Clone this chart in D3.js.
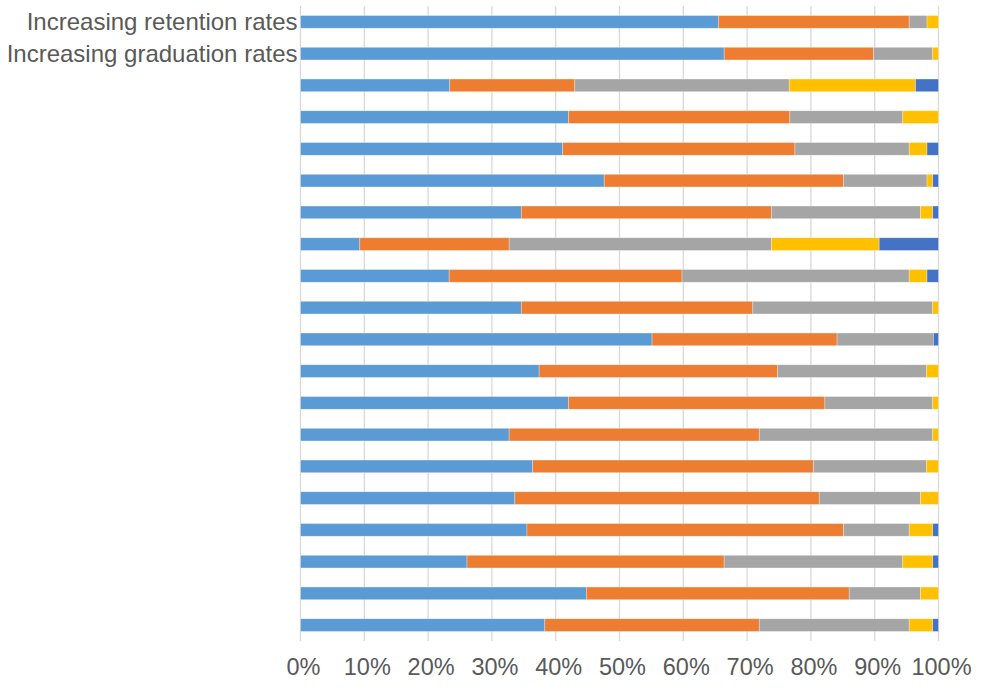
<!DOCTYPE html>
<html>
<head>
<meta charset="utf-8">
<script src="https://cdn.jsdelivr.net/npm/d3@7"></script>
<style>
  body { margin: 0; background: #fff; }
  text { font-family: "Liberation Sans", Arial, sans-serif; fill: #595959; }
</style>
</head>
<body>
<div class="chart"></div>
<script>
var svgWidth = 987;
var svgHeight = 690;

// row labels (only the first two carry text in the reference)
var categories = ["Increasing retention rates", "Increasing graduation rates",
  "", "", "", "", "", "", "", "", "", "", "", "", "", "", "", "", "", ""];

// stacked percentages, one array per series
var series1 = [65.5, 66.4, 23.4, 42.0, 41.1, 47.6, 34.6, 9.3, 23.3, 34.6, 55.1, 37.4, 42.0, 32.7, 36.4, 33.6, 35.5, 26.1, 44.8, 38.3];
var series2 = [29.9, 23.4, 19.6, 34.7, 36.4, 37.5, 39.2, 23.4, 36.5, 36.3, 29.0, 37.4, 40.2, 39.2, 44.0, 47.7, 49.6, 40.3, 41.2, 33.6];
var series3 = [2.8, 9.3, 33.6, 17.7, 17.9, 13.1, 23.4, 41.1, 35.6, 28.2, 15.1, 23.3, 16.9, 27.2, 17.7, 15.9, 10.3, 28.0, 11.2, 23.5];
var series4 = [1.8, 0.9, 19.8, 5.6, 2.8, 0.9, 1.9, 16.9, 2.8, 0.9, 0.0, 1.9, 0.9, 0.9, 1.9, 2.8, 3.7, 4.7, 2.8, 3.7];
var series5 = [0.0, 0.0, 3.6, 0.0, 1.8, 0.9, 0.9, 9.3, 1.8, 0.0, 0.8, 0.0, 0.0, 0.0, 0.0, 0.0, 0.9, 0.9, 0.0, 0.9];

var seriesKeys = ["s1", "s2", "s3", "s4", "s5"];
var colors = ["#5B9BD5", "#ED7D31", "#A5A5A5", "#FFC000", "#4472C4"];
var xTicks = [0, 10, 20, 30, 40, 50, 60, 70, 80, 90, 100];

var margin = { top: 6, right: 48.5, bottom: 49, left: 300.5 };
var width = svgWidth - margin.left - margin.right;
var height = svgHeight - margin.top - margin.bottom;

var rows = categories.map(function(c, i) {
  return { id: i, label: c, s1: series1[i], s2: series2[i], s3: series3[i], s4: series4[i], s5: series5[i] };
});

var svg = d3.select(".chart")
  .append("svg")
  .attr("width", svgWidth)
  .attr("height", svgHeight);

var chartGroup = svg.append("g")
  .attr("transform", `translate(${margin.left}, ${margin.top})`);

var xScale = d3.scaleLinear().domain([0, 100]).range([0, width]);
var yScale = d3.scaleBand()
  .domain(rows.map(d => d.id))
  .range([0, height])
  .paddingInner(0.6)
  .paddingOuter(0.3);

// vertical gridlines
chartGroup.selectAll("line.grid")
  .data(xTicks)
  .enter()
  .append("line")
  .attr("class", "grid")
  .attr("x1", d => xScale(d))
  .attr("x2", d => xScale(d))
  .attr("y1", 0)
  .attr("y2", height)
  .attr("stroke", "#d9d9d9")
  .attr("stroke-width", 1.3);

// normalise each row to 100% and stack
var stacked = d3.stack()
  .keys(seriesKeys)
  .offset(d3.stackOffsetExpand)(rows);

var layers = chartGroup.selectAll("g.layer")
  .data(stacked)
  .enter()
  .append("g")
  .attr("class", "layer")
  .attr("fill", (d, i) => colors[i]);

layers.selectAll("rect")
  .data(d => d)
  .enter()
  .append("rect")
  .attr("x", d => xScale(d[0] * 100))
  .attr("width", d => Math.max(0, xScale(d[1] * 100) - xScale(d[0] * 100)))
  .attr("y", d => yScale(d.data.id))
  .attr("height", yScale.bandwidth())
  .attr("stroke", "#ffffff")
  .attr("stroke-opacity", 0.5)
  .attr("stroke-width", 0.6);

// category labels
chartGroup.selectAll("text.cat")
  .data(rows.filter(d => d.label))
  .enter()
  .append("text")
  .attr("class", "cat")
  .attr("x", -3)
  .attr("y", d => yScale(d.id) + yScale.bandwidth() / 2)
  .attr("dy", "0.35em")
  .attr("text-anchor", "end")
  .attr("font-size", "24px")
  .text(d => d.label);

// bottom axis labels
var xAxis = d3.axisBottom(xScale)
  .tickValues(xTicks)
  .tickSize(0)
  .tickPadding(0)
  .tickFormat(d => d + "%");

var xAxisGroup = chartGroup.append("g")
  .attr("transform", `translate(2.5, ${height})`)
  .call(xAxis);

xAxisGroup.select(".domain").remove();
xAxisGroup.selectAll("text")
  .attr("y", 34)
  .attr("dy", 0)
  .attr("font-size", "23.5px")
  .attr("font-family", "Liberation Sans, Arial, sans-serif")
  .attr("fill", "#595959");
</script>
</body>
</html>
